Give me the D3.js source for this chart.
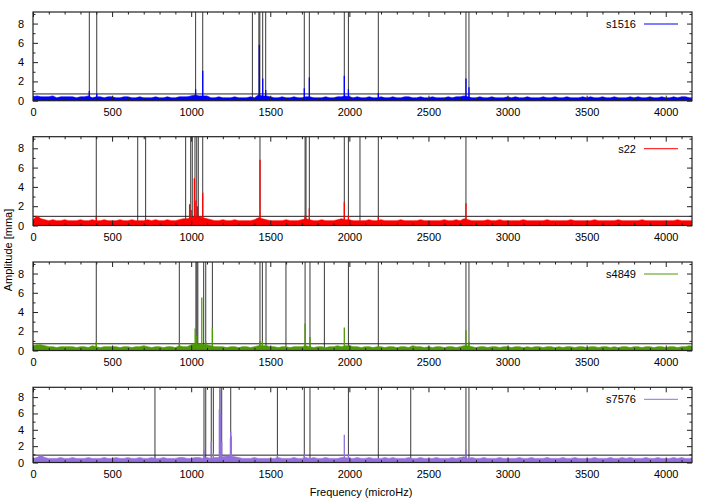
<!DOCTYPE html>
<html><head><meta charset="utf-8">
<script src="https://cdn.jsdelivr.net/npm/d3@7"></script>
<style>
body{margin:0;background:#fff;}
svg text{font-family:"Liberation Sans",Arial,sans-serif;font-size:11px;fill:#000;}
</style></head>
<body><svg id="c" width="714" height="500"></svg>
<script>
// ---------------- data ----------------
const seriesNames = ["s1516", "s22", "s4849", "s7576"];
const seriesColors = ["#0000ff", "#ff0000", "#4e9a06", "#9370db"];
const xTicks = [0, 500, 1000, 1500, 2000, 2500, 3000, 3500, 4000];
const yTicks = [0, 2, 4, 6, 8];
const xMax = 4166, yMax = 9.2;
const noiseStep = 25; // microHz between noise samples
// significance thresholds (mma)
const thresholds = [0.7, 0.95, 0.7, 0.9];
// identified frequencies (vertical lines), microHz
const lines1 = [356, 403, 1028, 1073, 1387, 1428, 1434, 1452, 1471, 1715, 1747, 1968, 1994, 2183, 2737, 2756];
const lines2 = [400, 662, 712, 965, 997, 1007, 1024, 1035, 1045, 1073, 1435, 1720, 1726, 1747, 1968, 1994, 2067, 2183, 2737];
const lines3 = [400, 925, 1030, 1036, 1042, 1079, 1092, 1134, 1435, 1450, 1473, 1599, 1720, 1751, 1842, 1994, 2183, 2737, 2756];
const lines4 = [771, 1081, 1092, 1127, 1140, 1182, 1193, 1250, 1545, 1715, 1751, 1994, 2183, 2388, 2737, 2756];
// spectral peaks [frequency, amplitude]
const peaks1 = [[356,1.0],[403,0.7],[1028,1.2],[1073,3.1],[1431,5.8],[1452,2.3],[1471,1.1],[1715,1.3],[1747,2.4],[1968,2.6],[1994,1.2],[2183,0.8],[2737,2.3],[2756,1.4]];
const peaks2 = [[400,0.9],[990,2.2],[1000,1.6],[1020,4.9],[1030,2.6],[1040,2.0],[1073,3.4],[1435,6.8],[1720,1.0],[1747,1.8],[1968,2.4],[1994,1.0],[2183,0.9],[2737,2.3]];
const peaks3 = [[400,0.9],[925,0.8],[1025,2.3],[1035,1.5],[1067,5.5],[1092,1.0],[1134,2.4],[1435,1.0],[1450,1.0],[1720,2.8],[1751,1.4],[1968,2.4],[2737,2.1],[2756,0.9]];
const peaks4 = [[771,0.8],[1081,1.5],[1127,2.6],[1140,1.2],[1178,6.5],[1182,8.8],[1186,6.0],[1193,2.5],[1248,3.0],[1250,3.8],[1254,3.2],[1545,0.9],[1715,1.0],[1968,3.4],[1994,1.0],[2737,1.6]];
// noise amplitude every 25 microHz, in tenths of mma
const noise1 = [
4,5,4,4,4,5,3,4,4,4, 4,3,4,4,5,3,4,4,3,4, 4,3,3,4,4,3,3,4,3,3, 3,4,3,3,4,3,3,4,4,4,
5,6,5,5,5,3,3,4,3,3, 3,4,3,3,3,4,3,6,5,5, 4,3,3,4,3,3,4,3,3,4, 4,3,3,3,4,3,3,4,4,5,
4,3,4,3,3,4,3,3,4,3, 3,4,3,3,4,4,3,3,4,3, 3,4,3,3,3,4,3,4,4,5, 4,3,3,4,3,3,4,3,3,3,
4,3,4,3,3,4,3,3,3,4, 3,3,4,3,3,4,3,3,3,4, 3,4,3,3,4,3,3,4,3,3, 3,4,3,4,3,3,4,3,3,4,
3,3,4,3,4,4,3,3,4,3];
const noise2 = [
6,10,7,6,5,6,5,5,6,5, 5,5,6,5,5,6,5,5,6,5, 5,5,6,5,5,6,5,5,5,6, 5,6,5,5,6,5,5,6,7,7,
8,9,9,8,7,6,5,5,6,5, 5,6,5,5,5,5,6,8,7,6, 5,5,5,5,6,5,5,5,6,7, 6,5,5,6,5,5,5,6,7,6,
6,5,5,5,5,6,5,5,6,5, 5,5,5,6,5,5,5,5,6,5, 5,5,5,5,6,5,5,6,5,7, 6,5,5,5,5,6,5,5,6,5,
5,5,5,5,6,5,5,5,5,5, 6,5,5,5,5,5,6,5,5,5, 5,5,6,5,5,5,5,5,6,5, 5,5,5,5,6,5,5,5,5,5,
5,5,5,6,5,5,5,5,6,5];
const noise3 = [
5,6,6,5,4,4,3,4,4,4, 4,3,4,4,3,5,4,3,4,4, 4,4,3,4,4,3,4,4,5,4, 3,4,4,3,4,4,3,5,4,4,
6,7,7,6,6,5,4,4,4,3, 4,4,3,4,4,3,4,5,5,5, 4,4,3,4,4,3,4,4,4,5, 4,3,4,4,3,4,4,5,4,5,
5,4,4,3,4,4,3,4,4,3, 4,4,3,4,4,3,5,4,4,3, 4,3,4,4,3,4,4,3,4,5, 5,4,3,4,4,3,4,4,3,4,
4,3,4,4,3,4,3,4,4,3, 4,4,3,4,3,4,4,3,4,4, 3,4,4,3,4,4,3,4,3,4, 4,3,4,4,3,4,4,3,4,4,
3,4,4,3,4,4,5,4,4,5];
const noise4 = [
5,6,9,6,5,5,5,6,5,5, 6,5,5,5,6,5,5,5,6,5, 5,6,5,5,6,5,5,6,5,5, 6,5,5,6,5,5,5,6,6,5,
5,6,6,5,6,5,6,6,7,8, 8,7,6,5,5,5,6,5,5,5, 5,5,6,5,5,5,6,5,5,6, 5,6,5,5,6,5,5,5,6,6,
5,5,6,5,5,6,5,5,5,6, 5,6,5,5,5,6,5,5,6,5, 5,5,6,5,5,5,6,5,6,7, 5,6,5,5,6,5,5,5,6,5,
5,5,5,6,5,5,6,5,5,5, 6,5,5,5,6,5,5,6,5,5, 5,5,6,5,5,5,6,5,5,6, 5,6,5,5,5,6,5,5,6,5,
5,5,6,5,6,5,5,6,5,5];

const allLines = [lines1, lines2, lines3, lines4];
const allPeaks = [peaks1, peaks2, peaks3, peaks4];
const allNoise = [noise1, noise2, noise3, noise4];

// ---------------- layout ----------------
const svg = d3.select("#c");
const plotLeft = 33, plotRight = 692;
const frames = [[12, 100.7], [136.7, 225.5], [262, 350.5], [387.3, 462.5]];
const x = d3.scaleLinear().domain([0, xMax]).range([plotLeft, plotRight]);
const xMinor = d3.range(0, xMax, 100).filter(v => v % 500 !== 0);
const yMinor = [1, 3, 5, 7, 9];

frames.forEach(([top, bottom], i) => {
  const y = d3.scaleLinear().domain([0, yMax]).range([bottom, top]);
  const g = svg.append("g");
  const clipId = "clip" + i;
  svg.append("clipPath").attr("id", clipId).append("rect")
    .attr("x", plotLeft).attr("y", top).attr("width", plotRight - plotLeft).attr("height", bottom - top);
  const pg = g.append("g").attr("clip-path", `url(#${clipId})`);

  // identified frequencies
  pg.selectAll("line.f").data(allLines[i]).join("line")
    .attr("x1", d => x(d)).attr("x2", d => x(d))
    .attr("y1", y(0)).attr("y2", y(yMax))
    .attr("stroke", "#222").attr("stroke-width", 0.9);
  // threshold
  pg.append("line").attr("x1", x(0)).attr("x2", x(xMax))
    .attr("y1", y(thresholds[i])).attr("y2", y(thresholds[i]))
    .attr("stroke", "#222").attr("stroke-width", 1);

  // noise spectrum
  const pts = allNoise[i].map((v, k) => [k * noiseStep, v / 10]);
  const area = d3.area().x(d => x(d[0])).y0(y(0)).y1(d => y(d[1]));
  pg.append("path").datum(pts).attr("d", area)
    .attr("fill", seriesColors[i]).attr("stroke", seriesColors[i]).attr("stroke-width", 0.6);
  // peaks
  pg.selectAll("line.p").data(allPeaks[i]).join("line")
    .attr("x1", d => x(d[0])).attr("x2", d => x(d[0]))
    .attr("y1", y(0)).attr("y2", d => y(d[1]))
    .attr("stroke", seriesColors[i]).attr("stroke-width", 1.3);

  // axes (ticks inward on all four sides)
  const axB = g.append("g").attr("transform", `translate(0,${bottom})`)
    .call(d3.axisBottom(x).tickValues(xTicks).tickSize(-5).tickPadding(8).tickFormat(d3.format("d")));
  const axBm = g.append("g").attr("transform", `translate(0,${bottom})`)
    .call(d3.axisBottom(x).tickValues(xMinor).tickSize(-2.5).tickFormat(""));
  const axT = g.append("g").attr("transform", `translate(0,${top})`)
    .call(d3.axisTop(x).tickValues(xTicks).tickSize(-5).tickFormat(""));
  const axTm = g.append("g").attr("transform", `translate(0,${top})`)
    .call(d3.axisTop(x).tickValues(xMinor).tickSize(-2.5).tickFormat(""));
  const axL = g.append("g").attr("transform", `translate(${plotLeft},0)`)
    .call(d3.axisLeft(y).tickValues(yTicks).tickSize(-5).tickPadding(9).tickFormat(d3.format("d")));
  const axLm = g.append("g").attr("transform", `translate(${plotLeft},0)`)
    .call(d3.axisLeft(y).tickValues(yMinor).tickSize(-2.5).tickFormat(""));
  const axR = g.append("g").attr("transform", `translate(${plotRight},0)`)
    .call(d3.axisRight(y).tickValues(yTicks).tickSize(-5).tickFormat(""));
  const axRm = g.append("g").attr("transform", `translate(${plotRight},0)`)
    .call(d3.axisRight(y).tickValues(yMinor).tickSize(-2.5).tickFormat(""));
  [axB, axBm, axT, axTm, axL, axLm, axR, axRm].forEach(a => {
    a.select(".domain").remove();
    a.selectAll(".tick line").attr("stroke", "#222");
    a.selectAll("text").attr("font-size", 11).attr("font-family", "Liberation Sans, Arial, sans-serif").attr("fill", "#000");
  });

  // frame
  g.append("rect").attr("x", plotLeft).attr("y", top)
    .attr("width", plotRight - plotLeft).attr("height", bottom - top)
    .attr("fill", "none").attr("stroke", "#222").attr("stroke-width", 1.2);

  // legend
  const ly = top + 12;
  g.append("text").attr("x", 636).attr("y", ly).attr("dy", "0.35em")
    .attr("text-anchor", "end").text(seriesNames[i]);
  g.append("line").attr("x1", 644).attr("x2", 678).attr("y1", ly).attr("y2", ly)
    .attr("stroke", seriesColors[i]).attr("stroke-width", 1);
});

// axis titles
svg.append("text").attr("transform", "translate(8,250) rotate(-90)")
  .attr("text-anchor", "middle").attr("dy", "0.35em").text("Amplitude [mma]");
svg.append("text").attr("x", 361).attr("y", 492).attr("dy", "0.35em")
  .attr("text-anchor", "middle").text("Frequency (microHz)");
</script></body></html>
